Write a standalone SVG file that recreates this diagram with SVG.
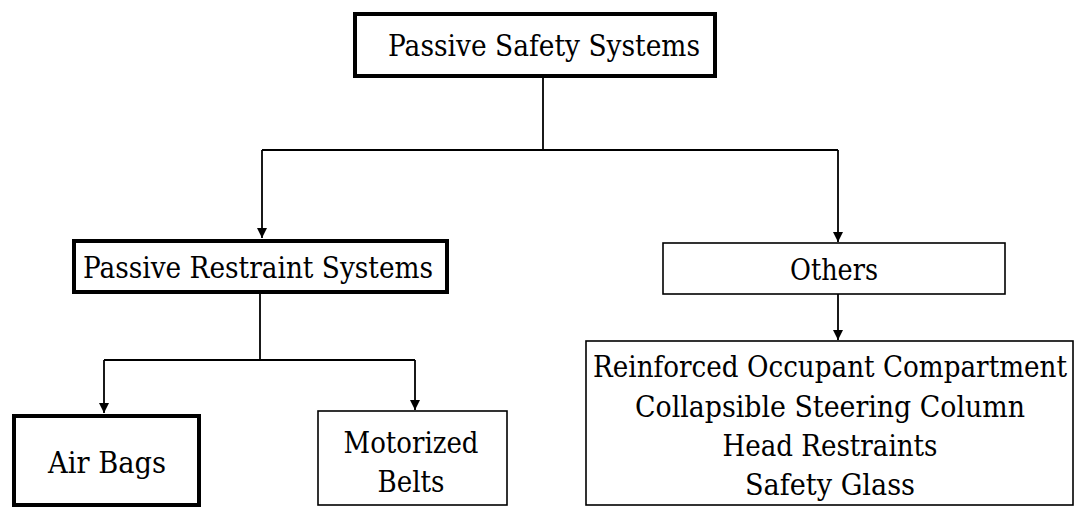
<svg xmlns="http://www.w3.org/2000/svg" width="1075" height="507" viewBox="0 0 1075 507">
  <style>
    .thick { fill: #fff; stroke: #000; stroke-width: 4; }
    .thin { fill: #fff; stroke: #000; stroke-width: 1.6; }
    .lbl { font-family: "DejaVu Serif", "Liberation Serif", serif; font-size: 30px; fill: #000; text-anchor: middle; }
    .con { fill: none; stroke: #000; stroke-width: 1.8; }
  </style>
  <defs>
    <marker id="arr" markerWidth="10" markerHeight="10" refX="10" refY="5" orient="auto" markerUnits="userSpaceOnUse">
      <path d="M0,0 L10,5 L0,10 Z" fill="#000"/>
    </marker>
  </defs>
  <rect width="1075" height="507" fill="#fff"/>

  <g id="connectors">
    <path class="con" d="M543,76 L543,150"/>
    <path class="con" d="M262,150 L838,150"/>
    <path class="con" d="M262,150 L262,238" marker-end="url(#arr)"/>
    <path class="con" d="M838,150 L838,242" marker-end="url(#arr)"/>
    <path class="con" d="M260,293 L260,360"/>
    <path class="con" d="M104,360 L415,360"/>
    <path class="con" d="M104,360 L104,413" marker-end="url(#arr)"/>
    <path class="con" d="M415,360 L415,410" marker-end="url(#arr)"/>
    <path class="con" d="M838,294 L838,340" marker-end="url(#arr)"/>
  </g>

  <g id="passive-safety">
    <rect class="thick" x="355" y="14" width="360" height="62"/>
    <text class="lbl" x="544" y="56" textLength="312" lengthAdjust="spacingAndGlyphs">Passive Safety Systems</text>
  </g>

  <g id="passive-restraint">
    <rect class="thick" x="74" y="241" width="373" height="51"/>
    <text class="lbl" x="258" y="278" textLength="350" lengthAdjust="spacingAndGlyphs">Passive Restraint Systems</text>
  </g>

  <g id="others">
    <rect class="thin" x="663" y="243" width="342" height="51"/>
    <text class="lbl" x="834" y="280" textLength="88" lengthAdjust="spacingAndGlyphs">Others</text>
  </g>

  <g id="air-bags">
    <rect class="thick" x="14" y="416" width="185" height="89"/>
    <text class="lbl" x="107" y="473" textLength="118" lengthAdjust="spacingAndGlyphs">Air Bags</text>
  </g>

  <g id="motorized-belts">
    <rect class="thin" x="318" y="411" width="189" height="94"/>
    <text class="lbl" x="411" y="453" textLength="135" lengthAdjust="spacingAndGlyphs">Motorized</text>
    <text class="lbl" x="411" y="492" textLength="67" lengthAdjust="spacingAndGlyphs">Belts</text>
  </g>

  <g id="others-list">
    <rect class="thin" x="586" y="341" width="487" height="164"/>
    <text class="lbl" x="830" y="377" textLength="474" lengthAdjust="spacingAndGlyphs">Reinforced Occupant Compartment</text>
    <text class="lbl" x="830" y="417" textLength="390" lengthAdjust="spacingAndGlyphs">Collapsible Steering Column</text>
    <text class="lbl" x="830" y="456" textLength="215" lengthAdjust="spacingAndGlyphs">Head Restraints</text>
    <text class="lbl" x="830" y="495" textLength="170" lengthAdjust="spacingAndGlyphs">Safety Glass</text>
  </g>
</svg>
